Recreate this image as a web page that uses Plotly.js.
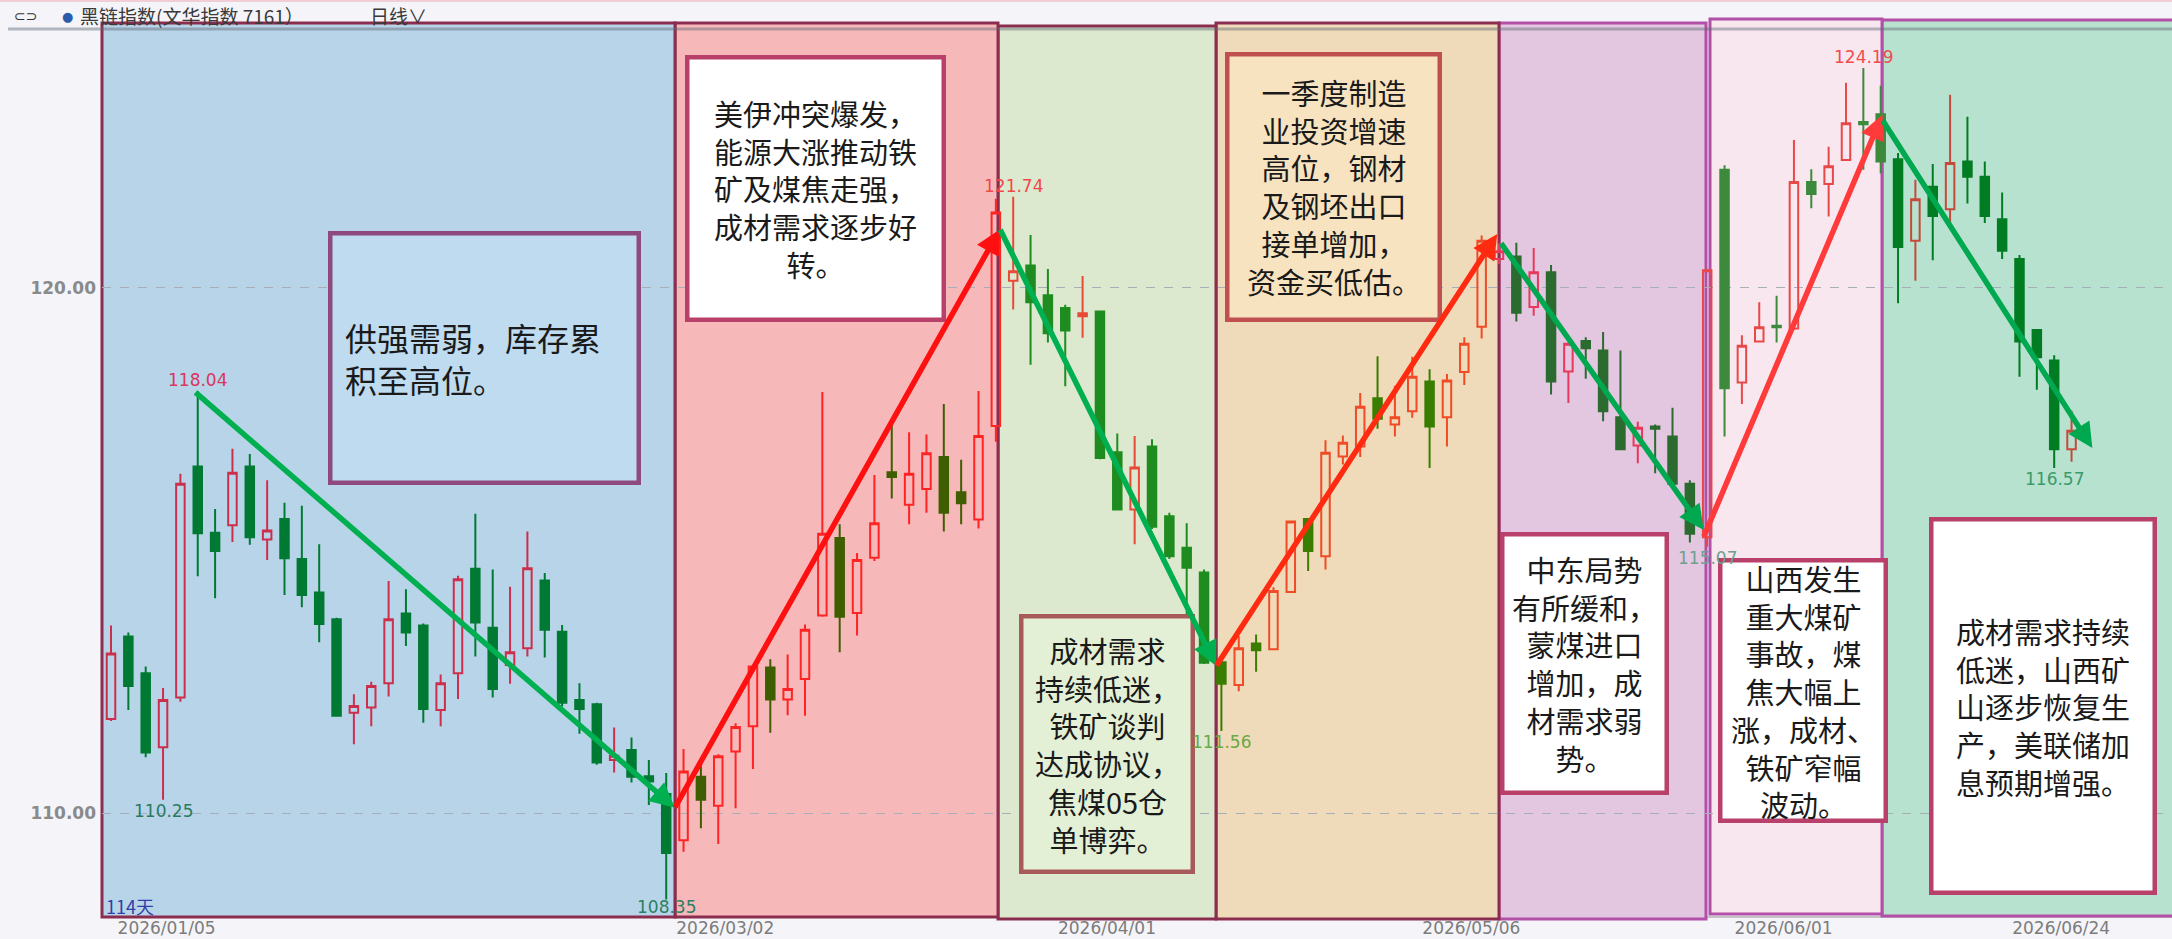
<!DOCTYPE html>
<html>
<head>
<meta charset="utf-8">
<script src="https://cdn.plot.ly/plotly-3.0.1.min.js"></script>
<style>
html,body{margin:0;padding:0;background:#f4f4f9;}
#chart{width:2172px;height:939px;}
</style>
</head>
<body>
<div id="chart"></div>
<script>
// ---------------- DATA ----------------
const openP = [
111.79,113.36,112.66,111.25,112.20,116.60,115.34,115.48,116.60,115.21,
115.60,114.84,114.20,113.69,111.91,112.01,112.47,113.80,113.57,111.96,
112.66,114.65,113.53,112.82,113.14,114.43,113.45,112.15,112.07,111.01,
111.20,110.70,110.36,
109.48,110.69,110.14,111.17,111.65,112.77,112.16,112.55,113.76,115.24,
113.81,114.86,116.49,115.87,116.17,116.78,116.11,115.59,117.37,
120.14,120.43,119.86,119.62,119.46,119.55,116.87,115.78,116.98,115.65,115.05,114.58,
112.87,112.44,113.23,113.12,114.21,115.60,114.89,116.79,116.98,117.90,117.40,117.65,118.22,117.54,118.40,119.26,
120.55,120.60,119.64,120.30,118.41,118.99,118.81,117.54,117.00,117.36,117.17,116.27,
115.25,122.25,118.20,118.98,119.28,119.23,122.02,121.98,122.44,123.16,123.31,
122.45,120.90,121.93,121.50,122.41,122.12,121.31,120.55,119.20,118.62,116.93
];
const highP = [
113.57,113.44,112.79,112.38,116.46,118.04,115.79,116.94,116.84,116.34,
115.91,115.85,115.12,113.72,112.26,112.50,114.42,114.26,113.61,112.64,
114.52,115.70,114.64,114.31,115.36,114.57,113.58,112.47,112.10,111.63,
111.44,111.01,110.76,
111.22,110.99,111.12,111.71,112.82,112.93,113.02,113.59,118.02,115.50,
114.95,116.44,117.43,117.25,117.21,117.79,116.73,118.04,121.70,
121.74,121.01,120.36,119.68,120.23,119.57,117.23,117.18,117.12,115.72,115.52,114.64,
112.90,113.37,113.40,114.30,115.57,115.62,117.10,117.19,118.00,118.70,118.14,118.69,118.45,118.36,119.06,121.00,
120.85,120.86,120.76,120.44,118.96,119.06,119.16,118.81,117.45,117.40,117.72,116.34,
120.36,122.34,119.10,119.73,119.85,122.82,122.26,122.69,123.91,124.19,123.85,
122.57,122.06,122.36,123.68,123.26,122.41,121.82,120.63,119.22,118.72,117.66
];
const lowP = [
111.75,111.96,111.06,110.25,112.12,114.51,114.09,115.16,115.11,114.82,
114.15,113.92,113.25,111.84,111.31,111.65,112.22,113.18,111.72,111.65,
112.17,112.98,112.20,112.46,112.98,112.96,112.03,111.51,110.92,110.77,
110.58,110.15,108.35,
109.26,109.71,109.41,110.09,110.84,111.53,111.86,111.85,113.74,113.06,
113.38,114.80,115.99,115.50,115.72,115.36,115.50,115.42,117.07,
119.59,118.54,118.96,118.13,119.05,116.74,115.76,115.12,115.41,114.84,113.78,112.84,
111.56,112.32,112.69,113.10,114.19,114.61,114.64,116.64,116.78,117.32,117.17,117.53,116.57,116.98,118.15,119.04,
120.45,119.36,119.47,117.97,117.81,118.27,117.46,116.91,116.66,116.47,116.25,115.15,
115.07,117.17,117.79,118.96,118.96,119.20,121.52,121.36,122.42,122.25,122.18,
119.71,120.14,120.53,121.20,121.61,121.24,120.55,118.31,118.06,116.57,116.69
];
const closeP = [
113.04,112.42,111.15,112.15,116.27,115.33,114.99,116.48,115.25,115.38,
114.85,114.15,113.60,111.85,112.04,112.42,113.69,113.44,111.98,112.47,
114.45,113.63,112.36,113.06,114.66,113.49,112.10,111.98,110.96,111.09,
110.69,110.60,109.24,
110.79,110.25,111.08,111.64,112.79,112.16,112.36,113.49,115.32,113.74,
114.82,115.52,116.40,116.46,116.85,115.72,115.90,117.18,121.44,
120.32,119.73,119.14,119.19,119.52,116.76,115.78,116.58,115.45,114.89,114.67,112.86,
112.46,113.14,113.10,114.23,115.55,114.99,116.86,117.05,117.74,117.51,117.54,118.31,117.36,118.24,118.94,120.90,
120.70,119.53,120.30,118.22,118.94,118.85,117.65,116.93,117.34,117.32,116.27,115.32,
120.34,118.09,118.90,119.25,119.25,122.02,121.79,122.32,123.14,123.12,122.41,
120.78,121.69,121.37,122.38,122.12,121.37,120.71,118.98,118.68,116.93,117.28
];
// first candle index of each shaded phase
const phaseStart = [0, 33, 52, 64, 80, 92, 103];
// x-axis date labels and the candle index they belong to
const dateLabels = ['2026/01/05','2026/03/02','2026/04/01','2026/05/06','2026/06/01','2026/06/24'];
const dateIndex  = [0, 35, 57, 78, 96, 112];
// y tick labels
const yTicks = [110, 120];
const yTickText = ['110.00', '120.00'];
// marked extreme prices: candle index + which value
const marks = [
  {i:5,   kind:'high', color:'#d8365c', shift:0},
  {i:3,   kind:'low',  color:'#2a7a62', shift:0},
  {i:32,  kind:'low',  color:'#2a8062', shift:4},
  {i:52,  kind:'high', color:'#f04848', shift:0},
  {i:64,  kind:'low',  color:'#6aa844', shift:0},
  {i:92,  kind:'low',  color:'#6fa08e', shift:0},
  {i:101, kind:'high', color:'#f04c4c', shift:0},
  {i:112, kind:'low',  color:'#3a9a6a', shift:0}
];
// trend arrows (candle index, price)
const trends = [
  {from:[4.84,118.02], to:[32.5,110.10], color:'#00b050'},
  {from:[32.5,110.10], to:[51.24,121.12], color:'#ff1010'},
  {from:[51.24,121.12], to:[63.7,112.80], color:'#00b050'},
  {from:[63.7,112.80], to:[79.9,121.03], color:'#ff2a10'},
  {from:[80.1,120.86], to:[91.8,115.39], color:'#00a850'},
  {from:[91.8,115.26], to:[102.1,123.30], color:'#ff3a3a'},
  {from:[102.1,123.20], to:[114.2,116.95], color:'#00a850'}
];
const notes = [
  '供强需弱，库存累<br>积至高位。',
  '美伊冲突爆发，<br>能源大涨推动铁<br>矿及煤焦走强，<br>成材需求逐步好<br>转。',
  '成材需求<br>持续低迷，<br>铁矿谈判<br>达成协议，<br>焦煤05仓<br>单博弈。',
  '一季度制造<br>业投资增速<br>高位，钢材<br>及钢坯出口<br>接单增加，<br>资金买低估。',
  '中东局势<br>有所缓和，<br>蒙煤进口<br>增加，成<br>材需求弱<br>势。',
  '山西发生<br>重大煤矿<br>事故，煤<br>焦大幅上<br>涨，成材、<br>铁矿窄幅<br>波动。',
  '成材需求持续<br>低迷，山西矿<br>山逐步恢复生<br>产，美联储加<br>息预期增强。'
];

// ---------------- STYLES ----------------
const upColors   = ['#cc2f4c','#ff2424','#e84a38','#f04a26','#e8385c','#e84848','#c44a3a'];
const downColors = ['#007a33','#3f5e00','#1f8c1f','#3a7d00','#2b6b30','#3d8a3d','#007d22'];
const phaseBoxes = [
  {x0:102,  x1:675,  y0:23, y1:917, fill:'#b8d4e9', line:'#8b2d4e'},
  {x0:675,  x1:998,  y0:23, y1:917, fill:'#f7b8ba', line:'#8b2d4e'},
  {x0:998,  x1:1216, y0:26, y1:919, fill:'#dce9cf', line:'#8b2d4e'},
  {x0:1216, x1:1499, y0:23, y1:919, fill:'#efdbba', line:'#8b2d4e'},
  {x0:1499, x1:1706, y0:23, y1:919, fill:'#e3c6e0', line:'#b24fa6'},
  {x0:1710, x1:1882, y0:19, y1:914, fill:'#f8e7ef', line:'#b24fa6'},
  {x0:1882, x1:2185, y0:20, y1:916, fill:'#b8e2d0', line:'#b24fa6'}
];
const noteBoxes = [
  {x0:328,  y0:231, x1:641,  y1:485, fs:32, bg:'#bfdbf0', border:'#8e4a7e', align:'left'},
  {x0:685,  y0:55,  x1:946,  y1:322, fs:29, bg:'#ffffff', border:'#b8406a', align:'center'},
  {x0:1019, y0:614, x1:1195, y1:874, fs:29, bg:'#e3f0d6', border:'#a85a5a', align:'center'},
  {x0:1225, y0:52,  x1:1442, y1:322, fs:29, bg:'#f7e3c0', border:'#c05050', align:'center'},
  {x0:1500, y0:532, x1:1669, y1:795, fs:29, bg:'#ffffff', border:'#b8406a', align:'center'},
  {x0:1718, y0:558, x1:1888, y1:823, fs:29, bg:'#ffffff', border:'#b8406a', align:'center'},
  {x0:1929, y0:517, x1:2157, y1:895, fs:29, bg:'#ffffff', border:'#b8406a', align:'center'}
];

const L = 102, R = 2172, T = 29, B = 917;
const PX = p => (p - L) / (R - L);
const PY = p => (B - p) / (B - T);
const CJK = '"Noto Sans CJK SC", "Noto Sans", sans-serif';

const idx = openP.map((_, i) => i);

// ---------------- TRACES ----------------
const traces = phaseStart.map((s, k) => {
  const e = k + 1 < phaseStart.length ? phaseStart[k + 1] : openP.length;
  return {
    type: 'candlestick',
    x: idx.slice(s, e),
    open: openP.slice(s, e),
    high: highP.slice(s, e),
    low: lowP.slice(s, e),
    close: closeP.slice(s, e),
    increasing: {line: {color: upColors[k], width: 2}, fillcolor: 'rgba(0,0,0,0)'},
    decreasing: {line: {color: downColors[k], width: 2}, fillcolor: downColors[k]},
    whiskerwidth: 0,
    hoverinfo: 'skip',
    showlegend: false
  };
});

// ---------------- SHAPES ----------------
const shapes = [];
shapes.push({type:'line', xref:'paper', yref:'paper', x0:PX(L), x1:PX(R), y0:PY(917), y1:PY(917),
  line:{color:'#c4c4c8', width:2}, layer:'below'});
[...phaseBoxes].reverse().forEach(r => {
  shapes.push({type:'rect', xref:'paper', yref:'paper',
    x0:PX(r.x0), x1:PX(r.x1), y0:PY(r.y1), y1:PY(r.y0),
    fillcolor:r.fill, line:{color:r.line, width:3}, layer:'below'});
});
shapes.push({type:'line', xref:'paper', yref:'paper', x0:PX(8), x1:PX(2172), y0:PY(29), y1:PY(29),
  line:{color:'rgba(95,105,115,0.45)', width:3}, layer:'below'});
shapes.push({type:'line', xref:'paper', yref:'paper', x0:PX(0), x1:PX(2172), y0:PY(1), y1:PY(1),
  line:{color:'rgba(240,196,205,0.8)', width:2}, layer:'below'});
// note boxes (above the candles)
const BW = 4.5;
noteBoxes.forEach(b => {
  shapes.push({type:'rect', xref:'paper', yref:'paper',
    x0:PX(b.x0 + BW / 2), x1:PX(b.x1 - BW / 2), y0:PY(b.y1 - BW / 2), y1:PY(b.y0 + BW / 2),
    fillcolor:b.bg, line:{color:b.border, width:BW}, layer:'above'});
});

// ---------------- ANNOTATIONS ----------------
const annotations = [];
// header
annotations.push({xref:'paper', yref:'paper', x:PX(12), y:PY(16), xanchor:'left', yanchor:'middle',
  text:'⊂⊃', showarrow:false, font:{family:'DejaVu Sans', size:14, color:'#333333'}});
annotations.push({xref:'paper', yref:'paper', x:PX(60), y:PY(16), xanchor:'left', yanchor:'middle',
  text:'●', showarrow:false, font:{family:'DejaVu Sans', size:13, color:'#2a5caa'}});
annotations.push({xref:'paper', yref:'paper', x:PX(78), y:PY(15), xanchor:'left', yanchor:'middle',
  text:'黑链指数(文华指数 7161）', showarrow:false, font:{family:CJK, size:19, color:'#3a3a3a'}});
annotations.push({xref:'paper', yref:'paper', x:PX(368), y:PY(15), xanchor:'left', yanchor:'middle',
  text:'日线∨', showarrow:false, font:{family:CJK, size:19, color:'#3a3a3a'}});
// day count
annotations.push({xref:'paper', yref:'paper', x:PX(104), y:PY(906), xanchor:'left', yanchor:'middle',
  text:openP.length + '天', showarrow:false, font:{family:CJK, size:18, color:'#3040a8'}});
// extreme price marks
marks.forEach(m => {
  const v = m.kind === 'high' ? highP[m.i] : lowP[m.i];
  annotations.push({xref:'x', yref:'y', x:m.i, y:v, xanchor:'center',
    yanchor: m.kind === 'high' ? 'bottom' : 'top', yshift:m.shift,
    text: v.toFixed(2), showarrow:false, borderpad:0,
    font:{family:'DejaVu Sans', size:17, color:m.color}});
});
// note texts
noteBoxes.forEach((b, k) => {
  const left = b.align === 'left';
  annotations.push({xref:'paper', yref:'paper',
    x: left ? PX(b.x0 + 16) : PX((b.x0 + b.x1) / 2),
    y: PY((b.y0 + b.y1) / 2),
    xanchor: left ? 'left' : 'center', yanchor:'middle',
    text:notes[k], showarrow:false, align:b.align, borderpad:0,
    font:{family:CJK, size:b.fs, color:'#1a1a1a'}});
});
// trend arrows
trends.forEach(t => {
  annotations.push({xref:'x', yref:'y', axref:'x', ayref:'y',
    x:t.to[0], y:t.to[1], ax:t.from[0], ay:t.from[1],
    text:'', showarrow:true, arrowhead:2, arrowsize:0.9, arrowwidth:5.5,
    arrowcolor:t.color, standoff:0, startstandoff:0, borderpad:0});
});

// ---------------- LAYOUT ----------------
const layout = {
  width:2172, height:939,
  margin:{l:L, r:0, t:T, b:939 - B, pad:0},
  paper_bgcolor:'#f4f4f9',
  plot_bgcolor:'rgba(0,0,0,0)',
  showlegend:false,
  xaxis:{
    range:[-0.519, 118.79],
    rangeslider:{visible:false},
    tickmode:'array',
    tickvals:dateIndex.map(i => Math.max(i, 2.8)),
    ticktext:dateLabels,
    ticks:'', showgrid:false, zeroline:false, showline:false,
    ticklabelshift:7, ticklabelstandoff:-1,
    tickfont:{family:'DejaVu Sans', size:17, color:'#7c7c7c'},
    fixedrange:true
  },
  yaxis:{
    range:[108.019, 124.933],
    tickmode:'array', tickvals:yTicks, ticktext:yTickText,
    ticks:'', showgrid:true, gridcolor:'#a6afb8', griddash:'dash', gridwidth:1,
    zeroline:false, showline:false, ticklabelstandoff:5,
    tickfont:{family:'DejaVu Sans', size:17, color:'#8a8a8a', weight:'bold'},
    fixedrange:true
  },
  shapes:shapes,
  annotations:annotations
};

Plotly.newPlot('chart', traces, layout, {displayModeBar:false, staticPlot:true});
</script>
</body>
</html>
